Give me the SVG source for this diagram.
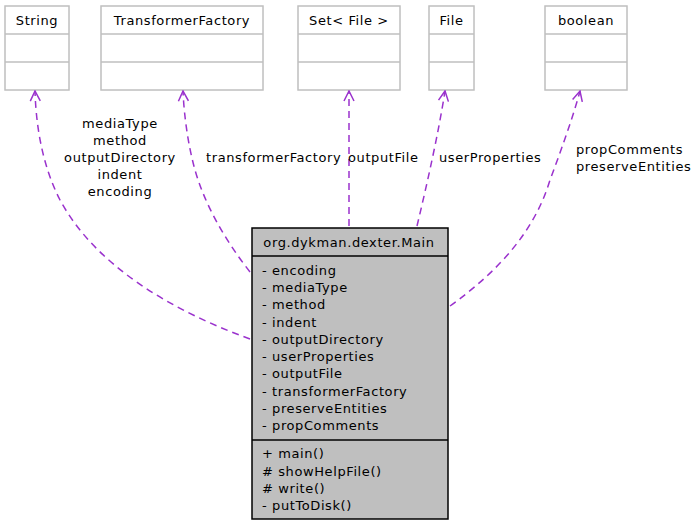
<svg xmlns="http://www.w3.org/2000/svg" width="696" height="525" viewBox="0 0 696 525">
<defs>
<style>
text{font-family:"DejaVu Sans","Liberation Sans",sans-serif;font-size:13px;letter-spacing:0.6px;fill:#000}
.box{fill:#fff;stroke:#bfbfbf;stroke-width:1.5}
.main{fill:#bfbfbf;stroke:#000;stroke-width:1.5}
.sep{stroke:#bfbfbf;stroke-width:1.5}
.msep{stroke:#000;stroke-width:1.5}
.edge{fill:none;stroke:#9a32cd;stroke-width:1.5;stroke-dasharray:7,5;marker-end:url(#arr)}
.c{text-anchor:middle}
</style>
<marker id="arr" viewBox="0 0 12 12" refX="11" refY="6" markerWidth="12" markerHeight="12" markerUnits="userSpaceOnUse" orient="auto">
<path d="M1,1 L11,6 L1,11" fill="none" stroke="#9a32cd" stroke-width="1.5" stroke-dasharray="none"/>
</marker>
</defs>
<rect width="696" height="525" fill="#fff"/>
<g id="String">
<rect class="box" x="5" y="6" width="64" height="84"/>
<line class="sep" x1="5" y1="34" x2="69" y2="34"/>
<line class="sep" x1="5" y1="62" x2="69" y2="62"/>
<text class="c" x="37" y="25">String</text>
</g>
<g id="TransformerFactory">
<rect class="box" x="101" y="6" width="162" height="84"/>
<line class="sep" x1="101" y1="34" x2="263" y2="34"/>
<line class="sep" x1="101" y1="62" x2="263" y2="62"/>
<text class="c" x="182" y="25">TransformerFactory</text>
</g>
<g id="SetFile">
<rect class="box" x="298" y="6" width="102" height="84"/>
<line class="sep" x1="298" y1="34" x2="400" y2="34"/>
<line class="sep" x1="298" y1="62" x2="400" y2="62"/>
<text class="c" x="349" y="25">Set&lt; File &gt;</text>
</g>
<g id="File">
<rect class="box" x="429" y="6" width="45" height="84"/>
<line class="sep" x1="429" y1="34" x2="474" y2="34"/>
<line class="sep" x1="429" y1="62" x2="474" y2="62"/>
<text class="c" x="451.5" y="25">File</text>
</g>
<g id="boolean">
<rect class="box" x="545" y="6" width="82" height="84"/>
<line class="sep" x1="545" y1="34" x2="627" y2="34"/>
<line class="sep" x1="545" y1="62" x2="627" y2="62"/>
<text class="c" x="586" y="25">boolean</text>
</g>
<g id="Main">
<rect class="main" x="252" y="228" width="196" height="291"/>
<line class="msep" x1="252" y1="256" x2="448" y2="256"/>
<line class="msep" x1="252" y1="440" x2="448" y2="440"/>
<text class="c" x="349" y="247">org.dykman.dexter.Main</text>
<text x="262" y="275">- encoding</text>
<text x="262" y="292">- mediaType</text>
<text x="262" y="309">- method</text>
<text x="262" y="327">- indent</text>
<text x="262" y="344">- outputDirectory</text>
<text x="262" y="361">- userProperties</text>
<text x="262" y="378">- outputFile</text>
<text x="262" y="396">- transformerFactory</text>
<text x="262" y="413">- preserveEntities</text>
<text x="262" y="430">- propComments</text>
<text x="262" y="458">+ main()</text>
<text x="262" y="476"># showHelpFile()</text>
<text x="262" y="493"># write()</text>
<text x="262" y="510">- putToDisk()</text>
</g>
<g id="connectors">
<path class="edge" d="M250,339 C170,310 95,265 60,200 C42,165 36,125 35,91"/>
<path class="edge" d="M250,272 C225,240 205,205 195,170 C188,145 184,115 183,91"/>
<path class="edge" d="M349,226 L349,91"/>
<path class="edge" d="M417,226 C428,180 439,130 445,91"/>
<path class="edge" d="M450,306 C500,270 535,230 550,180 C565,140 575,110 580,91"/>
<text class="c" x="120" y="128">mediaType</text>
<text class="c" x="120" y="145">method</text>
<text class="c" x="120" y="162">outputDirectory</text>
<text class="c" x="120" y="179">indent</text>
<text class="c" x="120" y="196">encoding</text>
<text x="206" y="162">transformerFactory</text>
<text x="348" y="162">outputFile</text>
<text x="439" y="162">userProperties</text>
<text x="576" y="154">propComments</text>
<text x="576" y="171">preserveEntities</text>
</g>
</svg>
